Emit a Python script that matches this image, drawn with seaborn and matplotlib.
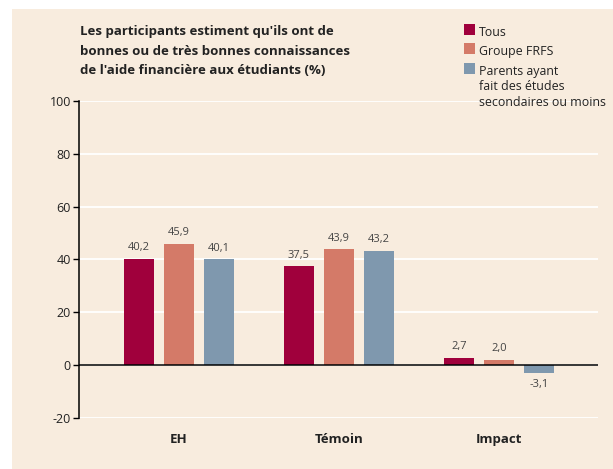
import pandas as pd
import numpy as np
import matplotlib.pyplot as plt
import matplotlib.patches as mpatches
import seaborn as sns

categories = ['EH', 'Témoin', 'Impact']
groups = ['Tous', 'Groupe FRFS', 'Parents ayant\nfait des études\nsecondaires ou moins']
tous = [40.2, 37.5, 2.7]
frfs = [45.9, 43.9, 2.0]
parents = [40.1, 43.2, -3.1]
colors = ['#A0003C', '#D47A68', '#7F98AE']
y_ticks = [-20, 0, 20, 40, 60, 80, 100]

BG = '#F8ECDE'
W, H = 613, 469

df = pd.DataFrame({
    'categorie': categories * 3,
    'groupe': [groups[0]] * 3 + [groups[1]] * 3 + [groups[2]] * 3,
    'valeur': tous + frfs + parents,
})

sns.set_style('white')
plt.rcParams['font.family'] = ['Open Sans', 'DejaVu Sans']

fig = plt.figure(figsize=(W / 100, H / 100), dpi=100)
fig.patch.set_facecolor('white')
panel = mpatches.Rectangle((12 / W, 0), 1, 1 - 9 / H, transform=fig.transFigure,
                           facecolor=BG, edgecolor='none', zorder=-5)
fig.add_artist(panel)

ax = fig.add_axes([79 / W, 1 - 418 / H, (598 - 79) / W, (418 - 101) / H])
ax.set_facecolor(BG)

sns.barplot(data=df, x='categorie', y='valeur', hue='groupe', order=categories,
            hue_order=groups, palette=colors, saturation=1, width=0.75, gap=0.25,
            linewidth=0, legend=False, ax=ax, zorder=3)

for container in ax.containers:
    labels = [f'{v:.1f}'.replace('.', ',') for v in container.datavalues]
    ax.bar_label(container, labels=labels, padding=4, fontsize=8, color='#444444')

ax.set_ylim(-20, 100)
ax.set_xlim(-0.625, 2.62)
ax.set_yticks(y_ticks)
ax.set_yticklabels([str(t) for t in y_ticks], fontsize=9, color='#222222')
ax.yaxis.grid(True, color='white', linewidth=1.3, zorder=0)
ax.set_axisbelow(True)
ax.axhline(0, color='black', linewidth=1.1, zorder=4)
ax.tick_params(axis='y', left=True, length=4.3, width=1, color='black', pad=1.5)
ax.tick_params(axis='x', bottom=False, pad=7)
ax.set_xticks(range(len(categories)))
ax.set_xticklabels(categories, fontsize=9.5, fontweight='bold', color='#222222')
for side in ['top', 'right', 'bottom']:
    ax.spines[side].set_visible(False)
ax.spines['left'].set_color('black')
ax.spines['left'].set_linewidth(1.1)
ax.set_xlabel('')
ax.set_ylabel('')

fig.text(80 / W, 1 - 25 / H,
         "Les participants estiment qu'ils ont de\nbonnes ou de très bonnes connaissances\nde l'aide financière aux étudiants (%)",
         fontsize=9.5, fontweight='bold', color='#222222', va='top', ha='left', linespacing=1.66)

# legend
leg_top = [24, 43, 63]
for y, c, g in zip(leg_top, colors, groups):
    fig.add_artist(mpatches.Rectangle((464 / W, 1 - (y + 11) / H), 11 / W, 11 / H,
                                      transform=fig.transFigure, facecolor=c, edgecolor='none'))
    fig.text(479 / W, 1 - (y + 1.5) / H, g, fontsize=8.9, color='#222222', va='top', ha='left',
             linespacing=1.3)

plt.savefig('out.png', dpi=100, facecolor=fig.get_facecolor())
plt.close()
